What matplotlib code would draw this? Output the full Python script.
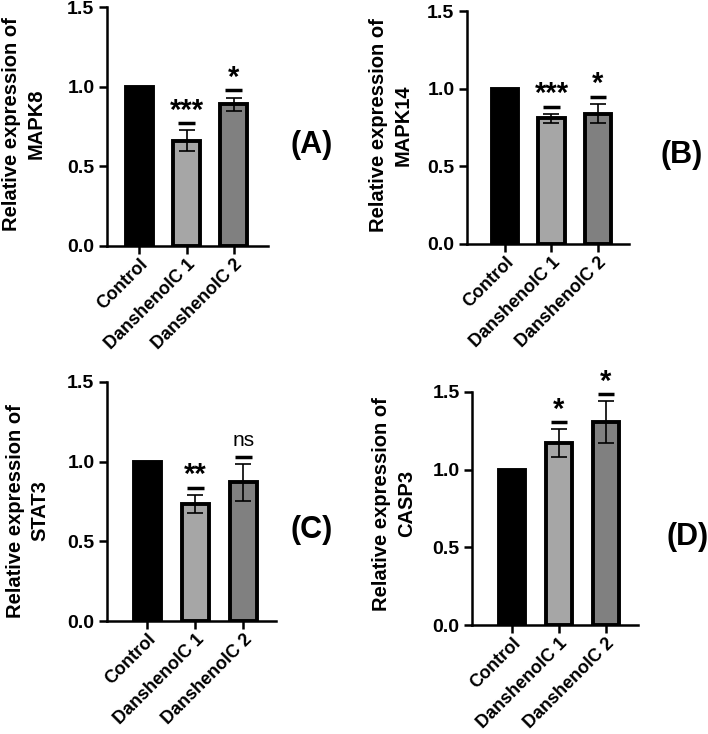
import matplotlib.pyplot as plt

plt.rcParams['font.family'] = ['Liberation Sans', 'DejaVu Sans']
plt.rcParams['font.weight'] = 'bold'

groups = ["Control", "DanshenolC 1", "DanshenolC 2"]
genes = ["MAPK8", "MAPK14", "STAT3", "CASP3"]
tags = ["(A)", "(B)", "(C)", "(D)"]

mapk8 = [1.0, 0.66, 0.89]
mapk8_err = [0, 0.066, 0.042]
mapk14 = [1.0, 0.81, 0.84]
mapk14_err = [0, 0.03, 0.063]
stat3 = [1.0, 0.735, 0.87]
stat3_err = [0, 0.055, 0.115]
casp3 = [1.0, 1.17, 1.305]
casp3_err = [0, 0.09, 0.135]

sig = [["", "***", "*"], ["", "***", "*"], ["", "**", "ns"], ["", "*", "*"]]

values = [mapk8, mapk14, stat3, casp3]
errors = [mapk8_err, mapk14_err, stat3_err, casp3_err]

bar_colors = ["#000000", "#a6a6a6", "#808080"]

# layout in pixels of the 708x734 figure: (left, right, top, bottom)
W, H = 708, 734
boxes = [(107, 268, 7, 246), (467, 629, 11, 244),
         (107, 276, 382, 621), (472, 638, 392, 625)]
xlims = [(-0.68, 2.72), (-0.82, 2.67), (-0.84, 2.68), (-0.85, 2.68)]
label_x = [-0.38, -0.335, -0.34, -0.335]
label_y = [0.51, 0.51, 0.46, 0.52]
tag_pos = [(290, 145), (661, 155), (290, 530), (667, 537)]

fig = plt.figure(figsize=(W / 100, H / 100), dpi=100)

for k in range(4):
    l, r, t, b = boxes[k]
    ax = fig.add_axes([l / W, 1 - b / H, (r - l) / W, (b - t) / H])
    x = list(range(len(groups)))
    vals = values[k]
    err = errors[k]

    ax.bar(x, vals, width=0.57, color=bar_colors, edgecolor='black',
           linewidth=2.8, zorder=2)
    ax.errorbar(x[1:], vals[1:], yerr=err[1:], fmt='none', ecolor='black',
                elinewidth=1.2, capsize=6, capthick=1.2, zorder=3)

    for i in x:
        s = sig[k][i]
        if not s:
            continue
        dash_y = vals[i] + err[i] + 0.045
        ax.hlines(dash_y, i - 0.18, i + 0.18, color='black', linewidth=2.5,
                  zorder=3)
        if s == "ns":
            ax.annotate(s, (i, dash_y), xytext=(0, 5), textcoords='offset points',
                        ha='center', va='bottom', fontsize=15, fontweight='normal')
        else:
            ax.annotate(s, (i, dash_y), xytext=(0, -1), textcoords='offset points',
                        ha='center', va='bottom', fontsize=21)

    ax.set_ylim(0, 1.5)
    ax.set_xlim(*xlims[k])
    ax.set_yticks([0, 0.5, 1.0, 1.5])
    ax.set_yticklabels(["0.0", "0.5", "1.0", "1.5"])
    ax.set_xticks(x)
    ax.set_xticklabels(groups, rotation=45, ha='right', va='top',
                       rotation_mode='anchor')
    ax.tick_params(width=1.8, length=6, labelsize=14, pad=3)
    ax.tick_params(axis='x', labelsize=13, pad=1)
    for side in ['top', 'right']:
        ax.spines[side].set_visible(False)
    for side in ['left', 'bottom']:
        ax.spines[side].set_linewidth(1.8)

    ax.set_ylabel("Relative expression of\n" + genes[k], fontsize=14.5,
                  fontweight='bold', linespacing=1.4)
    ax.yaxis.set_label_coords(label_x[k], label_y[k])

    fig.text(tag_pos[k][0] / W, 1 - tag_pos[k][1] / H, tags[k], fontsize=22,
             fontweight='bold', ha='left', va='center')

fig.savefig("out.png", dpi=100)
